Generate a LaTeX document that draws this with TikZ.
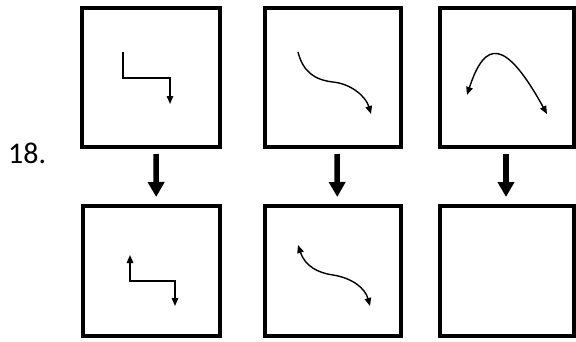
\documentclass[tikz,border=0pt]{standalone}
\usepackage{fontspec}
\setmainfont{Carlito}
\usetikzlibrary{arrows.meta,calc}
\begin{document}
\begin{tikzpicture}[x=1pt,y=-1pt,
  panel/.style={draw,line width=4pt,minimum height=139pt,inner sep=0pt},
  lowpanel/.style={draw,line width=4pt,minimum height=130pt,inner sep=0pt},
  thin/.style={line width=1.4pt},
  tip/.style={-{Triangle[length=8pt,width=6.5pt]}},
  twotip/.style={{Triangle[length=8pt,width=6.5pt]}-{Triangle[length=8pt,width=6.5pt]}},
  bigarrow/.style={line width=5.5pt,-{Triangle[length=15pt,width=16pt]}}]
\useasboundingbox (0,0) rectangle (576,341);
% panels
\node[panel,minimum width=138pt] (b1) at (151,77.5) {};
\node[panel,minimum width=136pt] (b2) at (333,77.5) {};
\node[panel,minimum width=134pt] (b3) at (507,77.5) {};
\node[lowpanel,minimum width=137pt] (b4) at (151.2,271) {};
\node[lowpanel,minimum width=136pt] (b5) at (333.3,271) {};
\node[lowpanel,minimum width=134pt] (b6) at (507,271) {};
% label
\node[anchor=base west,inner sep=0pt,font=\fontsize{30}{36}\selectfont] (lbl) at (8,163) {18.};
% transformation arrows
\draw[bigarrow] ($(b1.south)+(5,5)$) -- ($(b4.north)+(5,-7)$);
\draw[bigarrow] ($(b2.south)+(4,5)$) -- ($(b5.north)+(4,-7)$);
\draw[bigarrow] ($(b3.south)+(-1,5)$) -- ($(b6.north)+(-1,-7)$);
% panel 1 content
\draw[thin,tip] (123,52) -- (123,78) -- (170,78) -- (170,104);
% panel 2 content
\draw[thin,tip] (298,52) .. controls (303,72) and (315,80) .. (333,82)
  .. controls (352,84) and (366,97) .. (371,114);
% panel 3 content
\draw[thin,twotip] (467,95) .. controls (485,40) and (505,38) .. (547,114);
% panel 4 content
\draw[thin,twotip] (130,255) -- (130,281) -- (175,281) -- (175,306);
% panel 5 content
\draw[thin,twotip] (298,245) .. controls (305,266) and (318,273) .. (333,275)
  .. controls (352,278) and (365,288) .. (370,306);
\end{tikzpicture}
\end{document}
